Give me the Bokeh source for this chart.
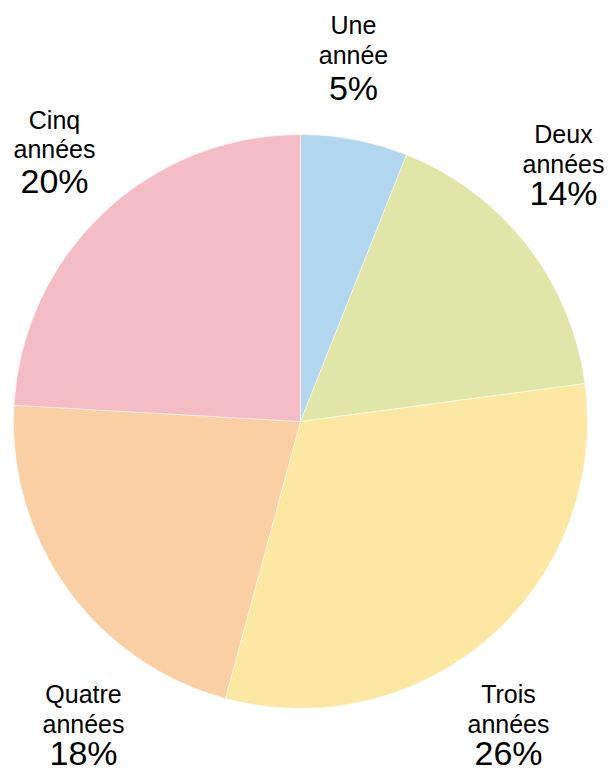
import math
from bokeh.plotting import figure
from bokeh.models import Range1d, ColumnDataSource
from bokeh.core.properties import value
from bokeh.embed import file_html
from bokeh.resources import INLINE

# Data
categories = ["Une année", "Deux années", "Trois années", "Quatre années", "Cinq années"]
name_line1 = ["Une", "Deux", "Trois", "Quatre", "Cinq"]
name_line2 = ["année", "années", "années", "années", "années"]
percents = [5, 14, 26, 18, 20]
colors = ["#b1d6ee", "#e0e6a7", "#fde8a3", "#f9cfa3", "#f4bdc5"]

# Layout (image pixel coordinates)
W, H = 609, 773
CX, CY, R = 300, 421, 287
NAME_SIZE, PCT_SIZE = 25, 34
label_x = [353, 563, 508, 83, 54]
base1 = [33, 142, 702, 702, 128]
base2 = [63, 172, 732, 732, 157]
base3 = [99, 204, 764, 764, 192]

def fy(y):
    return H - y

total = sum(percents)
starts, ends = [], []
acc = 0.0
for v in percents:
    a0 = acc / total * 2 * math.pi
    acc += v
    a1 = acc / total * 2 * math.pi
    starts.append(math.pi / 2 - a0)
    ends.append(math.pi / 2 - a1)

src = ColumnDataSource(dict(cat=categories, start=starts, end=ends, color=colors,
                            x=[CX] * len(percents), y=[fy(CY)] * len(percents)))

p = figure(width=W, height=H, output_backend="svg", toolbar_location=None,
           x_range=Range1d(0, W), y_range=Range1d(0, H),
           min_border=0)
p.axis.visible = False
p.grid.visible = False
p.outline_line_color = None
p.background_fill_color = "white"
p.border_fill_color = "white"

p.wedge(x="x", y="y", radius=R, start_angle="start", end_angle="end",
        direction="clock", fill_color="color", line_color="white", line_width=0.5,
        source=src)

font = value("Liberation Sans")
l1 = ColumnDataSource(dict(x=label_x, y=[fy(v - 0.35 * NAME_SIZE) for v in base1], t=name_line1))
l2 = ColumnDataSource(dict(x=label_x, y=[fy(v - 0.35 * NAME_SIZE) for v in base2], t=name_line2))
l3 = ColumnDataSource(dict(x=label_x, y=[fy(v - 0.35 * PCT_SIZE) for v in base3],
                           t=[f"{v}%" for v in percents]))
for s, size in ((l1, NAME_SIZE), (l2, NAME_SIZE), (l3, PCT_SIZE)):
    p.text(x="x", y="y", text="t", source=s, text_font=font, text_font_size=f"{size}px",
           text_align="center", text_baseline="middle", text_color="black")

open("out.html", "w").write(file_html(p, INLINE))
